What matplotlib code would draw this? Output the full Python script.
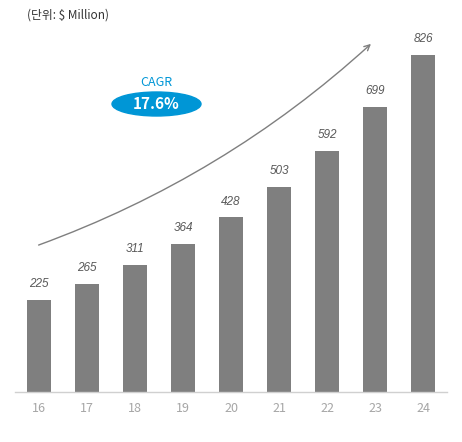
import numpy as np
import matplotlib.pyplot as plt
from matplotlib.patches import Ellipse

plt.rcParams['font.family'] = ['Noto Sans CJK KR', 'DejaVu Sans']

years = ['16', '17', '18', '19', '20', '21', '22', '23', '24']
values = [225, 265, 311, 364, 428, 503, 592, 699, 826]
cagr = '17.6%'

fig = plt.figure(figsize=(4.62, 4.42), dpi=100)
ax = fig.add_axes([15/462, 50/442, 432/462, 392/442])

x = np.arange(len(years))
ax.bar(x, values, width=0.5, color='#7f7f7f')

for xi, v in zip(x, values):
    ax.annotate(str(v), (xi, v), xytext=(0, 7), textcoords='offset points',
                ha='center', va='bottom', fontsize=8.5, style='italic',
                family='Liberation Sans', color='#595959')

ax.set_xlim(-0.5, 8.5)
ax.set_ylim(0, 961)
ax.set_xticks(x)
ax.set_xticklabels(years, fontsize=9, color='#a6a6a6')
ax.tick_params(axis='x', length=0, pad=7)
ax.set_yticks([])
for s in ['top', 'right', 'left']:
    ax.spines[s].set_visible(False)
ax.spines['bottom'].set_color('#d0d0d0')
ax.spines['bottom'].set_linewidth(1)

# unit label
fig.text(27/462, 1 - 15/442, '(단위: $ Million)', fontsize=8.5, color='#333333',
         ha='left', va='center')

# growth arrow
ax.annotate('', xy=(373, 442 - 42), xytext=(36, 442 - 246),
            xycoords='figure pixels', textcoords='figure pixels',
            arrowprops=dict(arrowstyle='->', color='#7f7f7f', lw=1,
                            connectionstyle='arc3,rad=0.1'))

# CAGR badge
ell = Ellipse((156.5/462, 1 - 104/442), 89/462, 24/442, transform=fig.transFigure,
              color='#0096d6', zorder=5)
fig.patches.append(ell)
fig.text(156.5/462, 1 - 104/442, cagr, fontsize=11, fontweight='bold', color='white',
         ha='center', va='center', zorder=6)
fig.text(156.5/462, 1 - 83/442, 'CAGR', fontsize=9, color='#0096d6',
         ha='center', va='center')

fig.savefig('out.png', dpi=100)
